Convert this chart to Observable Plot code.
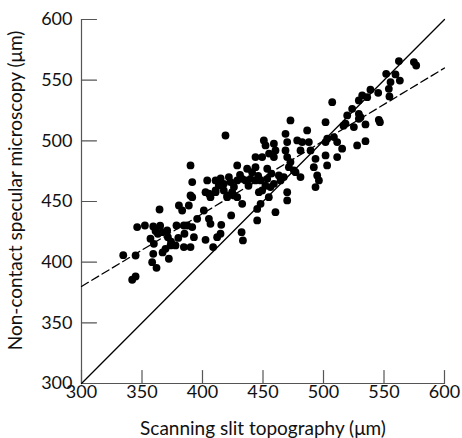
<!DOCTYPE html>
<html>
<head>
<meta charset="utf-8">
<script src="https://cdn.jsdelivr.net/npm/d3@7"></script>
<script src="https://cdn.jsdelivr.net/npm/@observablehq/plot@0.6"></script>
<style>
  html, body { margin: 0; padding: 0; background: white; }
</style>
</head>
<body>
<div id="chart"></div>
<script>
// Axis ticks
const xTicks = [300, 350, 400, 450, 500, 550, 600];
const yTicks = [300, 350, 400, 450, 500, 550, 600];
const xTitle = "Scanning slit topography (μm)";
const yTitle = "Non-contact specular microscopy (μm)";

// Line of equality (solid) and regression line (dashed)
const identityX = [300, 600];
const identityY = [300, 600];
const fitX = [300, 600];
const fitY = [380, 560];

// Measurements: [scanning slit, specular microscopy] in µm
const points = [
  [334.5,405.8],[344.7,405.5],[341.9,385.5],[344.7,388.2],[346,428.9],[352.4,430.2],[359.3,429.4],[361.2,425.6],
  [363.1,423.4],[357,419.3],[359.8,415.1],[359.3,406.9],[358.4,400],[362,395.3],[364.5,443.4],[366.7,424.7],
  [370.8,426.1],[371.4,420.6],[372.2,402.8],[369.4,411],[373.6,413.8],[378.5,430.2],[380.5,446.7],[383.2,442.6],
  [388.7,446.7],[390.1,455],[384.6,430.2],[387.4,430.2],[391.5,428.9],[385.1,423.4],[384.6,412.4],[390.1,412.4],
  [377.7,413.8],[392.9,420.6],[365,430],[374,417],[380,420],[367,408],
  [395.6,435.7],[401.1,442.6],[402.5,418.4],[405.3,435.7],[406.6,431.6],[405.3,456.4],[410.8,457.7],[408.8,412.4],
  [412.1,420.6],[414.9,423.4],[415.5,430.8],[420.4,455],[424.5,457.7],[428.7,453.6],[432.8,448.1],[423.7,438.5],
  [432.3,424.7],[433.4,417.9],[445.2,434.4],[445.2,443.9],[448,448.1],
  [419,504.4],[472.7,516.8],[501.7,515.4],[507.2,531.9],[486.5,508.6],[468.6,505.8],[450.7,500.3],[459,497.6],
  [470,499],[478.3,500.3],[482.4,499],[487.9,499],[468.6,492.1],[460.3,492.1],[452.1,496.2],[481,492.1],
  [489.3,492.1],[459,486.6],[470,486.6],[443.8,486.6],[449.3,486.6],[472.7,482.5],[471.4,478.3],[475.5,475.6],
  [453.5,477],[443.8,478.3],[436.9,477],[428.7,479.7],[403.9,467.4],[410.8,467.4],[413.5,463.2],[417.6,464.6],
  [421.8,470.1],[423.2,466],[428.7,467.4],[432.8,468.7],[435.6,467.4],[439.7,468.7],[443.8,467.4],[448,467.4],
  [453.5,468.7],[459,464.6],[464.5,467.4],[467.2,470.1],[463.1,471.5],[476.9,474.2],[481,470.1],[519.6,520.9],
  [523.7,526.4],[518.2,514.1],[525.1,511.3],[503.1,501.7],[508.6,503.1],[511.3,499],[501.7,499],[515.4,493.5],
  [501.7,488],[511.3,486.6],[503,479.7],[493.4,485.2],[492,478.3],[494.8,471.5],[496.2,467.4],[493.4,461.9],
  [527.8,496.2],[470,457.7],[470,450.9],[460.3,441.2],[454.8,453.6],[402.5,457.7],[406.6,453.6],[410.8,459.1],
  [417.6,459.1],[420.4,453.6],[425.9,455],[446.6,457.7],[449.3,459.1],[456.2,461.9],[390.1,479.7],[391.5,466],
  [391.5,453.6],[441,474.2],[455,489.5],[426,462],[438,463],[446,471],[457,473],[431,472],[415,469],[452,463],
  [562.3,565.7],[574.7,564.9],[576.6,562.1],[551.8,555.2],[559.5,554.7],[563.1,549.7],[555.4,548.4],[554,542.9],
  [554.5,536.6],[538.8,542.1],[545.2,539.6],[532,537.4],[536.1,536],[529.2,533.3],[529.2,522.3],[529.2,518.1],
  [530.6,519.5],[534.7,513.5],[545.7,517.3],[546.6,515.4],[534.7,499.7],[516.5,512.5]
];

const tickShape = {draw(context, l) { context.moveTo(0, 0); context.lineTo(0, -l); }};
const axisColor = "#555";

const chart = Plot.plot({
  width: 462,
  height: 438,
  marginLeft: 81,
  marginRight: 18,
  marginTop: 19,
  marginBottom: 55,
  x: {domain: [300, 600]},
  y: {domain: [300, 600]},
  style: {fontFamily: "Lato, 'Noto Sans', sans-serif", fontSize: "18px", color: "#111", background: "white"},
  marks: [
    Plot.axisX({ticks: xTicks, tickSize: 0, tickPadding: 2, label: null}),
    Plot.axisY({ticks: yTicks, tickSize: 0, tickPadding: 9, label: null}),
    Plot.ruleX([300], {stroke: axisColor, strokeWidth: 1.2}),
    Plot.ruleY([300], {stroke: axisColor, strokeWidth: 1.2}),
    Plot.vector(xTicks, {x: d => d, y: 300, length: 13, rotate: 0, anchor: "start", shape: tickShape, stroke: axisColor, strokeWidth: 1.2}),
    Plot.vector(yTicks, {x: 300, y: d => d, length: 15, rotate: 90, anchor: "start", shape: tickShape, stroke: axisColor, strokeWidth: 1.2}),
    Plot.line(identityX.map((x, i) => ({x, y: identityY[i]})), {x: "x", y: "y", stroke: "black", strokeWidth: 1.3}),
    Plot.line(fitX.map((x, i) => ({x, y: fitY[i]})), {x: "x", y: "y", stroke: "black", strokeWidth: 1.3, strokeDasharray: "8,4"}),
    Plot.dot(points, {x: d => d[0], y: d => d[1], r: 3.9, fill: "black", stroke: null}),
    Plot.text([xTitle], {frameAnchor: "bottom", dy: 45, text: d => d, fontSize: 19, textAnchor: "middle", lineAnchor: "middle", fill: "#111"}),
    Plot.text([yTitle], {frameAnchor: "left", dx: -66, dy: -11, rotate: -90, text: d => d, fontSize: 19, textAnchor: "middle", lineAnchor: "middle", fill: "#111"})
  ]
});
document.getElementById("chart").appendChild(chart);
</script>
</body>
</html>
